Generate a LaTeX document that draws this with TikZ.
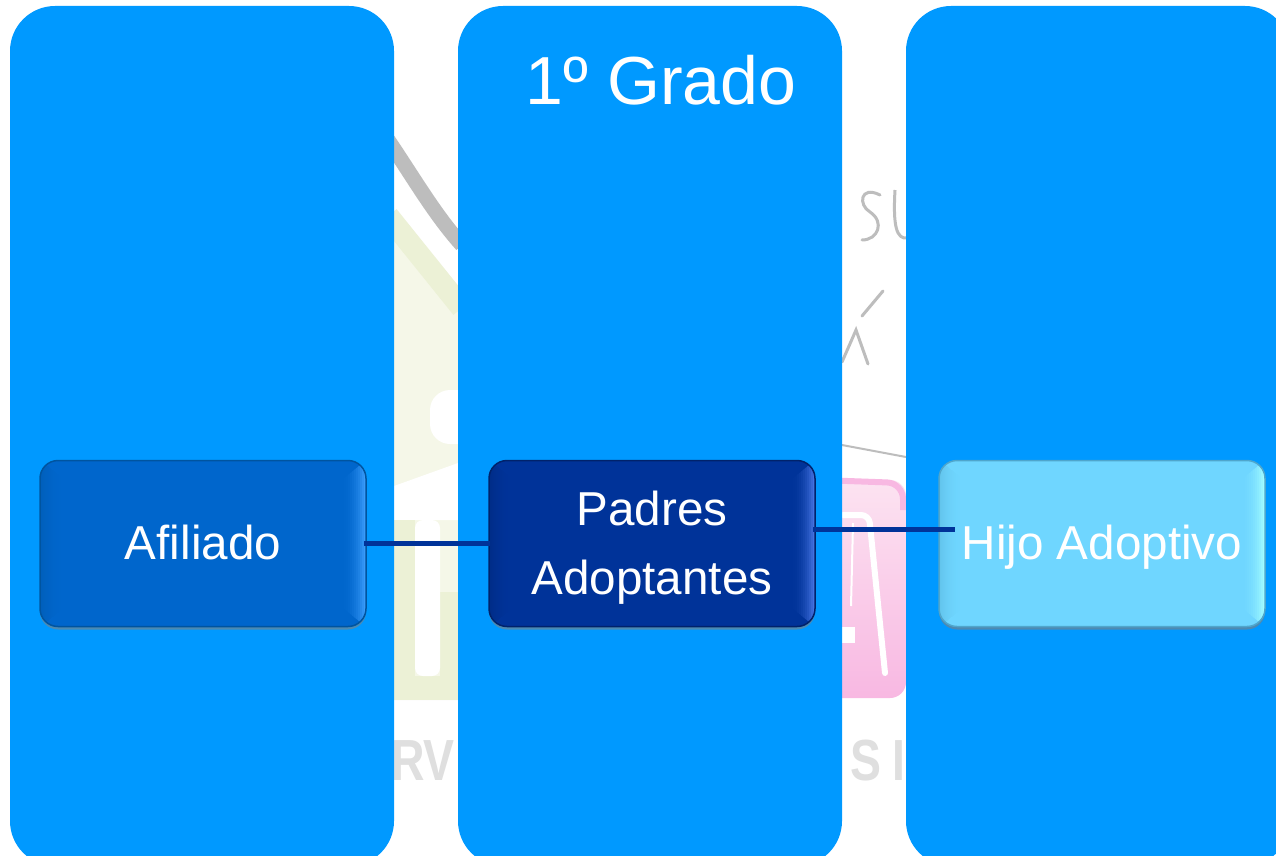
\documentclass[tikz,border=0pt]{standalone}
\usepackage{fontspec}
\setmainfont{Liberation Sans}
\usepackage{tikz}
\usetikzlibrary{positioning,shadows}
\definecolor{colgrado}{HTML}{0099FF}
\definecolor{lineablue}{HTML}{003399}
\definecolor{marcagris}{HTML}{DFDFDF}
\definecolor{marcatrazo}{HTML}{BDBDBD}
\definecolor{marcaverde}{HTML}{F5F7E8}
\definecolor{marcaoliva}{HTML}{ECF1D6}
\definecolor{marcarosa}{HTML}{F8B8E2}
\definecolor{marcaclaro}{HTML}{FCE3F1}
\definecolor{afiliadobase}{HTML}{0066CC}
\definecolor{afiliadoborde}{HTML}{00549F}
\definecolor{afiliadoluz}{HTML}{3FA0FF}
\definecolor{padresbase}{HTML}{003399}
\definecolor{padresborde}{HTML}{00226B}
\definecolor{padresluz}{HTML}{4A78E8}
\definecolor{hijobase}{HTML}{6FD6FF}
\definecolor{hijoborde}{HTML}{4FA6CC}
\definecolor{hijoluz}{HTML}{A6FFFF}
\tikzstyle{columna} = [
    rectangle, rounded corners=45pt,
    fill=colgrado, outer sep=0pt,
    minimum width=384pt,
    minimum height=860pt
]

\begin{document}
\begin{tikzpicture}[
        x=1pt, y=-1pt,
        boxgrado/.style n args={3}{
            rectangle, rounded corners=18pt, line width=1.5pt,
            draw=#2, fill=#1, text=white, outer sep=0pt,
            minimum width=326pt,
            minimum height=166pt,
            font=\fontsize{47.6}{69}\selectfont,
            text height=31pt, text depth=0pt,
            drop shadow={shadow xshift=0pt, shadow yshift=-3pt, opacity=.6},
            path picture={
                \foreach \i in {0,...,11}{
                    \pgfmathsetmacro{\mezcla}{\i*\i*0.75}
                    \pgfmathsetmacro{\suave}{\i*\i*0.3}
                    \pgfmathsetmacro{\hondo}{24-2*\i}
                    \fill[#3!\mezcla!#1, rounded corners=0pt]
                        (path picture bounding box.north east)
                        -- ([xshift=-\hondo pt, yshift=-0.8*\hondo pt]path picture bounding box.north east)
                        -- ([xshift=-\hondo pt, yshift=0.8*\hondo pt]path picture bounding box.south east)
                        -- (path picture bounding box.south east) -- cycle;
                    \fill[#2!\suave!#1, rounded corners=0pt]
                        (path picture bounding box.north west)
                        -- ([xshift=\hondo pt, yshift=-0.8*\hondo pt]path picture bounding box.north west)
                        -- ([xshift=\hondo pt, yshift=0.8*\hondo pt]path picture bounding box.south west)
                        -- (path picture bounding box.south west) -- cycle;
                }
            }
        },
        conector/.style = {-, line width=5pt, draw=lineablue},
        marcatexto/.style = {text=marcagris, font=\bfseries\fontsize{58}{58}\selectfont, inner sep=0pt, xscale=.8, transform shape}
    ]
        \clip (0,0) rectangle (1276,856);
        \fill[white] (0,0) rectangle (1276,856);

        % marca de agua
        \fill[marcaverde] (394,215) -- (458,300) -- (458,700) -- (394,700) -- cycle;
        \draw[marcaoliva, line width=22pt] (388,216) -- (462,308);
        \draw[marcatrazo, line width=15pt] (388,140) .. controls (415,180) and (435,215) .. (462,245);
        \fill[white, rounded corners=20pt] (430,390) rectangle (480,444);
        \fill[white] (394,486) -- (458,463) -- (458,520) -- (394,520) -- cycle;
        \fill[marcaoliva] (394,520) rectangle (415,700);
        \fill[marcaoliva] (415,676) rectangle (440,700);
        \fill[marcaoliva] (440,592) rectangle (458,700);
        \fill[white, rounded corners=8pt] (415,520) rectangle (440,676);
        \node[marcatexto, anchor=base east] (marcarv) at (455,780) {RV};

        \draw[marcatrazo, line width=3pt, line cap=round] (880,195) .. controls (860,185) and (858,205) .. (870,212) .. controls (885,222) and (878,240) .. (862,240);
        \draw[marcatrazo, line width=3pt] (895,190) .. controls (893,225) and (896,240) .. (908,238);
        \draw[marcatrazo, line width=3pt, line cap=round] (883,291) -- (862,316);
        \draw[marcatrazo, line width=3pt, line cap=round] (842,362) -- (856,330) -- (868,364);
        \draw[marcatrazo, line width=2pt] (842,445) -- (906,457);
        \shade[top color=marcaclaro, bottom color=marcarosa, rounded corners=16pt]
            (820,480) rectangle (906,698);
        \draw[marcarosa, line width=6pt, rounded corners=16pt] (820,480) -- (903,483) -- (903,510);
        \draw[white, line width=6pt, line cap=round, rounded corners=8pt] (843,515) -- (869,515) -- (885,673);
        \draw[white, line width=2pt] (853,523) -- (851,606);
        \fill[white] (842,627) rectangle (855,643);
        \node[marcatexto, anchor=base west] (marcas) at (850,780) {S};
        \node[marcatexto, anchor=base west] (marcai) at (892,780) {I};

        \node[columna] (col1) at (202,436) {};
        \node[columna] (col2) [right = 64pt of col1] {};
        \node[columna] (col3) [right = 64pt of col2] {};

        \node[anchor=base, text=white, font=\fontsize{68}{68}\selectfont] (titulo) at (661,105) {1º Grado};

        \node[boxgrado={afiliadobase}{afiliadoborde}{afiliadoluz}] (afiliado) at (203,543.5) {Afiliado};
        \node[boxgrado={padresbase}{padresborde}{padresluz}, align=center, text height=101pt] (padres) [right = 123pt of afiliado] {Padres\\Adoptantes};
        \node[boxgrado={hijobase}{hijoborde}{hijoluz}] (hijo) [right = 124pt of padres] {Hijo Adoptivo};

        \coordinate (finhijo) at (955,529);
        \draw[conector, shorten <=-2pt, shorten >=-1pt] (afiliado) -- (padres);
        \draw[conector, shorten <=-2pt] (padres.east |- finhijo) -- (finhijo);
    \end{tikzpicture}
\end{document}
